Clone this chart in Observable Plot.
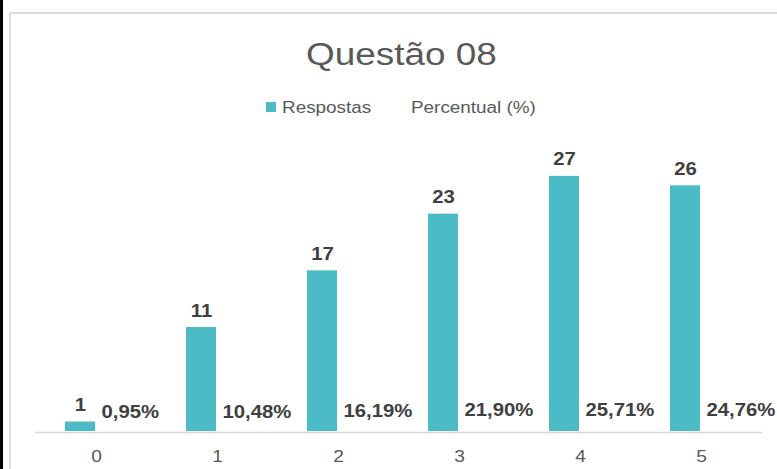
<!DOCTYPE html>
<html>
<head>
<meta charset="utf-8">
<script src="https://cdn.jsdelivr.net/npm/d3@7"></script>
<script src="https://cdn.jsdelivr.net/npm/@observablehq/plot@0.6"></script>
<style>
  html, body { margin: 0; padding: 0; background: #fff; overflow: hidden; }
  #wrap { position: relative; width: 777px; height: 469px; overflow: hidden; background: #fff;
          font-family: "Liberation Sans", Arial, sans-serif; }
  #strip { position: absolute; left: 0; top: 0; width: 3px; height: 469px; background: #000; }
  #frame { position: absolute; left: 9px; top: 12px; width: 900px; height: 600px;
           border-left: 2px solid #dcdcdc; border-top: 2px solid #dcdcdc; }
  #title { position: absolute; left: 0; top: 39px; width: 803px; text-align: center;
           font-size: 31px; line-height: 31px; color: #595959;
           transform: scaleX(1.19); transform-origin: 401.5px 50%; white-space: nowrap; }
  .leg { position: absolute; top: 99.8px; font-size: 16px; line-height: 16px; color: #595959;
         transform: scaleX(1.18); transform-origin: 0 50%; white-space: nowrap; }
  #sw { position: absolute; left: 265.5px; top: 102px; width: 10px; height: 10px; background: #4BBBC6; }
  #chart { position: absolute; left: 0; top: 0; }
</style>
</head>
<body>
<div id="wrap">
  <div id="strip"></div>
  <div id="frame"></div>
  <div id="chart"></div>
  <div id="title">Questão 08</div>
  <div id="sw"></div>
  <div class="leg" style="left:282px">Respostas</div>
  <div class="leg" style="left:411px">Percentual (%)</div>
</div>
<script>
const categorias = ["0", "1", "2", "3", "4", "5"];
const respostas = [1, 11, 17, 23, 27, 26];
const percentual = [0.95, 10.48, 16.19, 21.90, 25.71, 24.76];

const barColor = "#4BBBC6";
const data = categorias.map((c, i) => ({
  cat: c,
  resp: respostas[i],
  pct: percentual[i],
  pctLabel: percentual[i].toFixed(2).replace(".", ",") + "%"
}));

const chart = Plot.plot({
  width: 777,
  height: 469,
  marginLeft: 35,
  marginRight: 14.5,
  marginTop: 147.5,
  marginBottom: 38,
  style: {
    background: "transparent",
    fontFamily: "'Liberation Sans', Arial, sans-serif",
    fontSize: "17px",
    color: "#595959",
    overflow: "visible"
  },
  x: {
    domain: categorias,
    paddingInner: 0.7526,
    paddingOuter: 0.3763,
    label: null,
    tickSize: 0,
    tickPadding: 18
  },
  y: { domain: [0, 30], axis: null },
  marks: [
    Plot.barY(data, { x: "cat", y: "resp", fill: barColor, dx: -16 }),
    Plot.ruleY([0], { stroke: "#d9d9d9", strokeWidth: 1.5, dy: 1 }),
    Plot.text(data, {
      x: "cat", y: "resp", text: d => String(d.resp),
      dx: -16, dy: -11, lineAnchor: "bottom",
      fontSize: 18, fontWeight: "bold", fill: "#404040"
    }),
    Plot.text(data, {
      x: "cat", y: d => d.pct / 100, text: "pctLabel",
      dx: 5, dy: -13, textAnchor: "start", lineAnchor: "bottom",
      fontSize: 18, fontWeight: "bold", fill: "#404040"
    })
  ]
});

// horizontal stretch of labels to match the reference's wide glyphs
d3.select(chart).selectAll("text").each(function () {
  const s = 1.13;
  const t = this.getAttribute("transform");
  if (t) {
    this.setAttribute("transform", t + ` scale(${s},1)`);
  } else {
    const x = +this.getAttribute("x") || 0;
    this.setAttribute("transform", `translate(${x},0) scale(${s},1) translate(${-x},0)`);
  }
});

document.getElementById("chart").appendChild(chart);
</script>
</body>
</html>
